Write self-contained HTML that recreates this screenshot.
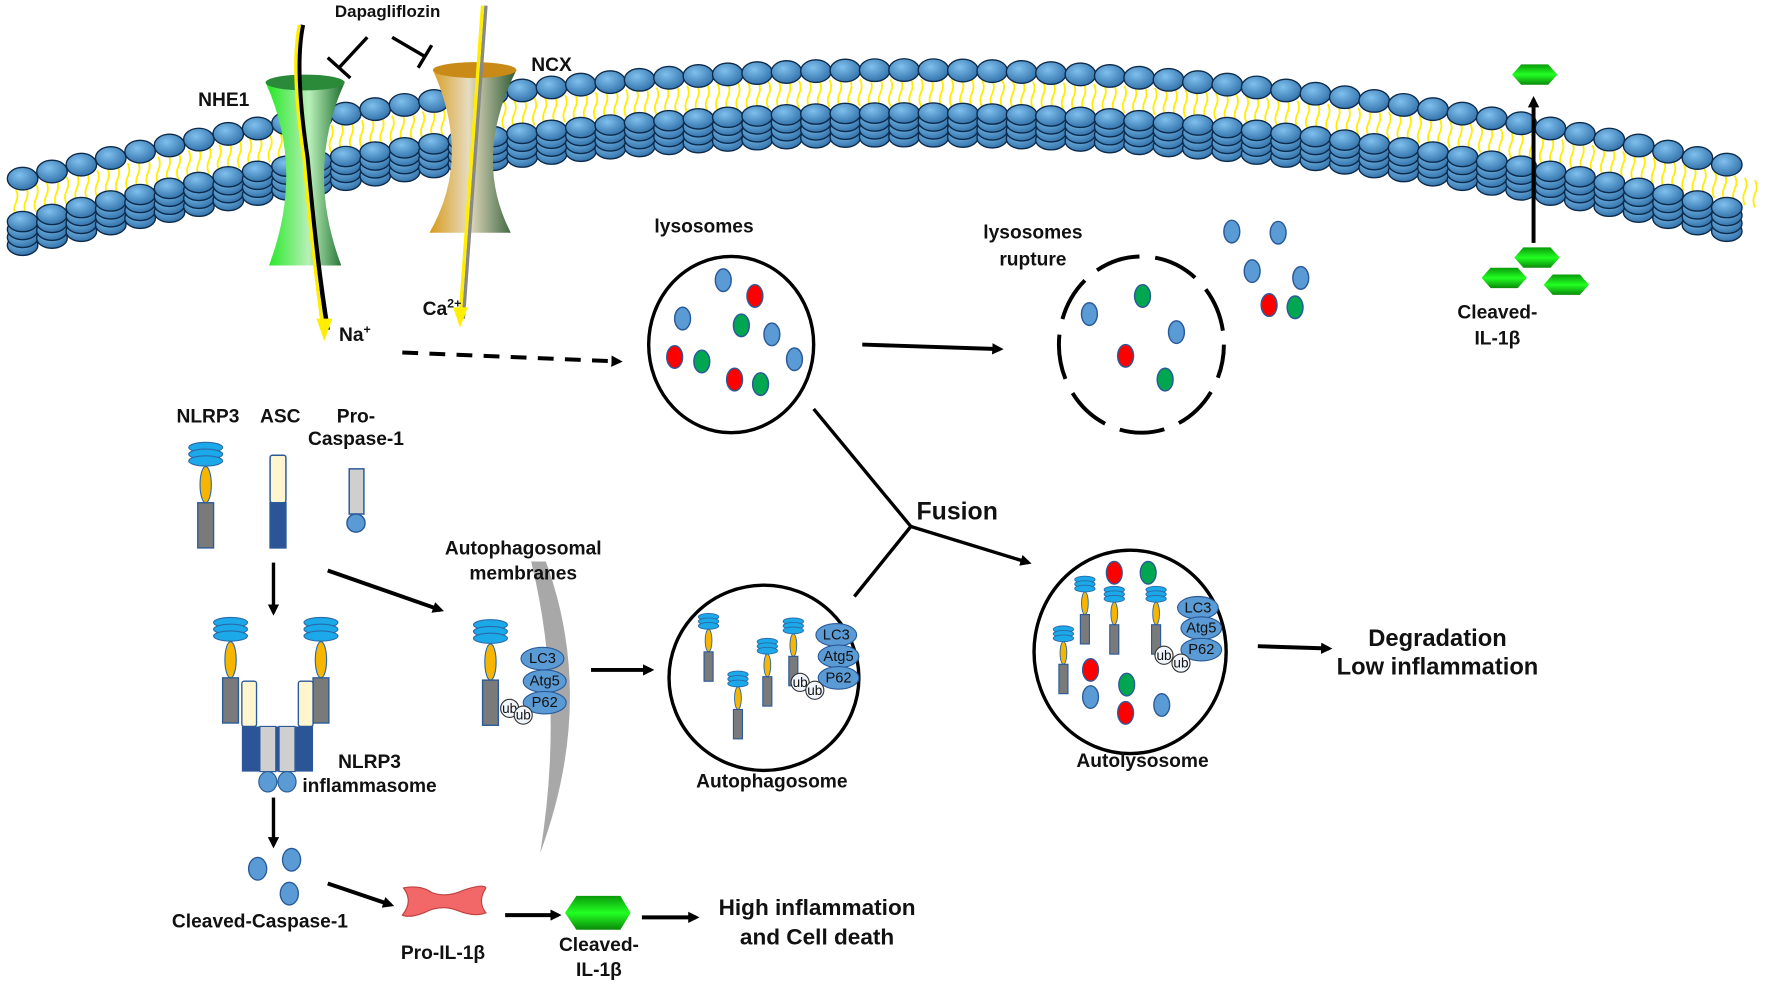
<!DOCTYPE html>
<html><head><meta charset="utf-8"><style>
html,body{margin:0;padding:0;background:#fff;}
svg{display:block;}
text{font-family:"Liberation Sans",Arial,sans-serif;font-weight:bold;fill:#111;}
</style></head><body>
<svg id="s" width="1772" height="984" viewBox="0 0 1568 871" preserveAspectRatio="none" xmlns="http://www.w3.org/2000/svg">
<defs>
<radialGradient id="hd" cx="40%" cy="35%" r="70%"><stop offset="0" stop-color="#7fc0ee"/><stop offset="1" stop-color="#2f6fa8"/></radialGradient>
<linearGradient id="gr" x1="0" x2="1"><stop offset="0" stop-color="#1fe81f"/><stop offset="0.55" stop-color="#b9f0b9"/><stop offset="1" stop-color="#1b6b2b"/></linearGradient>
<linearGradient id="br" x1="0" x2="1"><stop offset="0" stop-color="#d89a1a"/><stop offset="0.45" stop-color="#e6dcc0"/><stop offset="1" stop-color="#2c5a34"/></linearGradient>
<linearGradient id="hx" x1="0" y1="0" x2="0" y2="1"><stop offset="0" stop-color="#0a9a0a"/><stop offset="0.5" stop-color="#22ff22"/><stop offset="1" stop-color="#0a8a0a"/></linearGradient>
<marker id="ah" markerWidth="10" markerHeight="10" refX="7" refY="5" orient="auto" markerUnits="userSpaceOnUse"><path d="M0,0 L10,5 L0,10 z" fill="#000"/></marker>
<g id="nlb"><ellipse cx="0" cy="0" rx="15" ry="4.5" fill="#1ba9ea" stroke="#2a6aa8" stroke-width="1"/><ellipse cx="0" cy="6" rx="15" ry="4.5" fill="#1ba9ea" stroke="#2a6aa8" stroke-width="1"/><ellipse cx="0" cy="12" rx="15" ry="4.5" fill="#1ba9ea" stroke="#2a6aa8" stroke-width="1"/><ellipse cx="0" cy="33" rx="5" ry="16" fill="#f7b500" stroke="#2a6aa8" stroke-width="1"/><rect x="-7" y="49" width="14" height="40" fill="#7a7a7a" stroke="#2a5a98" stroke-width="1.2"/></g>
<g id="nls"><ellipse cx="0" cy="0" rx="9" ry="3" fill="#1ba9ea" stroke="#2a6aa8" stroke-width=".8"/><ellipse cx="0" cy="4" rx="9" ry="3" fill="#1ba9ea" stroke="#2a6aa8" stroke-width=".8"/><ellipse cx="0" cy="8" rx="9" ry="3" fill="#1ba9ea" stroke="#2a6aa8" stroke-width=".8"/><ellipse cx="0" cy="21" rx="3" ry="10" fill="#f7b500" stroke="#2a6aa8" stroke-width=".8"/><rect x="-4" y="31" width="8" height="26" fill="#7a7a7a" stroke="#2a5a98" stroke-width="1"/></g>
<g id="hex"><polygon points="-20,0 -12,-9 12,-9 20,0 12,9 -12,9" fill="url(#hx)"/></g>
</defs>
<g id="mem"></g>

<path d="M235,73 Q270,150 238,235 L302,235 Q270,150 305,73 Z" fill="url(#gr)"/>
<ellipse cx="270" cy="73" rx="35" ry="7" fill="#2a8a3a"/>
<path d="M383,62 Q418,140 380,206 L452,206 Q418,140 457,62 Z" fill="url(#br)"/>
<ellipse cx="420" cy="62" rx="37" ry="7" fill="#c98a18"/>
<path d="M268,22 Q260,60 272,140 Q280,230 290,292" fill="none" stroke="#000" stroke-width="4"/>
<path d="M265,22 Q257,60 269,140 Q277,230 286,292" fill="none" stroke="#ffee00" stroke-width="3"/>
<polygon points="280,282 294,282 287,302" fill="#ffee00"/>
<path d="M430,5 L410,282" stroke="#888" stroke-width="3"/>
<path d="M427,5 L407,282" stroke="#ffee00" stroke-width="3"/>
<polygon points="401,272 414,272 407,290" fill="#ffee00"/>

<text x="343" y="15" font-size="15" text-anchor="middle">Dapagliflozin</text>
<path d="M325,33 L300,60 M290,51 L310,69" stroke="#000" stroke-width="3"/>
<path d="M347,33 L376,50 M382,40 L370,60" stroke="#000" stroke-width="3"/>
<text x="198" y="94" font-size="17" text-anchor="middle">NHE1</text>
<text x="488" y="63" font-size="17" text-anchor="middle">NCX</text>
<text x="300" y="302" font-size="17">Na<tspan font-size="11" dy="-7">+</tspan></text>
<text x="374" y="279" font-size="17">Ca<tspan font-size="11" dy="-7">2+</tspan></text>

<path d="M356,312 L548,320" stroke="#000" stroke-width="3.5" stroke-dasharray="14,10" marker-end="url(#ah)"/>

<text x="623" y="206" font-size="17" text-anchor="middle">lysosomes</text>
<ellipse cx="647" cy="305" rx="73" ry="78" fill="none" stroke="#000" stroke-width="3"/>
<g stroke="#2a5a98" stroke-width="1.3">
<ellipse cx="640" cy="248" rx="7" ry="10" fill="#5b9bd5"/><ellipse cx="668" cy="262" rx="7" ry="10" fill="#ff0000"/>
<ellipse cx="604" cy="282" rx="7" ry="10" fill="#5b9bd5"/><ellipse cx="656" cy="288" rx="7" ry="10" fill="#00a650"/>
<ellipse cx="683" cy="296" rx="7" ry="10" fill="#5b9bd5"/><ellipse cx="597" cy="316" rx="7" ry="10" fill="#ff0000"/>
<ellipse cx="621" cy="320" rx="7" ry="10" fill="#00a650"/><ellipse cx="703" cy="318" rx="7" ry="10" fill="#5b9bd5"/>
<ellipse cx="650" cy="336" rx="7" ry="10" fill="#ff0000"/><ellipse cx="673" cy="340" rx="7" ry="10" fill="#00a650"/>
</g>
<path d="M763,305 L885,309" stroke="#000" stroke-width="3.5" marker-end="url(#ah)"/>
<text x="914" y="211" font-size="17" text-anchor="middle">lysosomes</text>
<text x="914" y="235" font-size="17" text-anchor="middle">rupture</text>
<ellipse cx="1010" cy="305" rx="73" ry="78" fill="none" stroke="#000" stroke-width="3.5" stroke-dasharray="40,14" stroke-dashoffset="10"/>
<g stroke="#2a5a98" stroke-width="1.3">
<ellipse cx="1011" cy="262" rx="7" ry="10" fill="#00a650"/><ellipse cx="964" cy="278" rx="7" ry="10" fill="#5b9bd5"/>
<ellipse cx="1041" cy="294" rx="7" ry="10" fill="#5b9bd5"/><ellipse cx="996" cy="315" rx="7" ry="10" fill="#ff0000"/>
<ellipse cx="1031" cy="336" rx="7" ry="10" fill="#00a650"/>
<ellipse cx="1090" cy="205" rx="7" ry="10" fill="#5b9bd5"/><ellipse cx="1131" cy="206" rx="7" ry="10" fill="#5b9bd5"/>
<ellipse cx="1108" cy="240" rx="7" ry="10" fill="#5b9bd5"/><ellipse cx="1151" cy="246" rx="7" ry="10" fill="#5b9bd5"/>
<ellipse cx="1123" cy="270" rx="7" ry="10" fill="#ff0000"/><ellipse cx="1146" cy="272" rx="7" ry="10" fill="#00a650"/>
</g>
<use href="#hex" x="1358" y="66"/>
<path d="M1357,215 L1357,88" stroke="#000" stroke-width="3.5" marker-end="url(#ah)"/>
<use href="#hex" x="1360" y="228"/><use href="#hex" x="1331" y="246"/><use href="#hex" x="1386" y="252"/>
<text x="1325" y="282" font-size="17" text-anchor="middle">Cleaved-</text>
<text x="1325" y="305" font-size="17" text-anchor="middle">IL-1β</text>

<text x="184" y="374" font-size="17" text-anchor="middle">NLRP3</text>
<text x="248" y="374" font-size="17" text-anchor="middle">ASC</text>
<text x="315" y="374" font-size="17" text-anchor="middle">Pro-</text>
<text x="315" y="394" font-size="17" text-anchor="middle">Caspase-1</text>
<use href="#nlb" x="182" y="396"/>
<rect x="239" y="403" width="14" height="42" rx="2" fill="#fff6d0" stroke="#2a5a98" stroke-width="1.3"/>
<rect x="239" y="445" width="14" height="40" fill="#2c5597" stroke="#2a5a98" stroke-width="1.3"/>
<rect x="309" y="415" width="13" height="40" fill="#cfcfcf" stroke="#2a5a98" stroke-width="1.3"/>
<circle cx="315" cy="463" r="8" fill="#5b9bd5" stroke="#2a5a98" stroke-width="1.3"/>
<path d="M242,498 L242,542" stroke="#000" stroke-width="3" marker-end="url(#ah)"/>
<path d="M290,505 L390,540" stroke="#000" stroke-width="3.5" marker-end="url(#ah)"/>

<use href="#nlb" x="204" y="551"/><use href="#nlb" x="284" y="551"/>
<rect x="214" y="603" width="13" height="40" rx="2" fill="#fff6d0" stroke="#2a5a98" stroke-width="1.2"/>
<rect x="264" y="603" width="13" height="40" rx="2" fill="#fff6d0" stroke="#2a5a98" stroke-width="1.2"/>
<rect x="214" y="643" width="63" height="40" fill="#2c5597"/>
<rect x="230" y="643" width="14" height="40" fill="#cfcfcf" stroke="#2a5a98" stroke-width="1"/>
<rect x="247" y="643" width="14" height="40" fill="#cfcfcf" stroke="#2a5a98" stroke-width="1"/>
<ellipse cx="237" cy="692" rx="8" ry="9" fill="#5b9bd5" stroke="#2a5a98"/><ellipse cx="254" cy="692" rx="8" ry="9" fill="#5b9bd5" stroke="#2a5a98"/>
<text x="327" y="680" font-size="17" text-anchor="middle">NLRP3</text>
<text x="327" y="701" font-size="17" text-anchor="middle">inflammasome</text>
<path d="M242,706 L242,748" stroke="#000" stroke-width="3" marker-end="url(#ah)"/>
<g fill="#5b9bd5" stroke="#2a5a98" stroke-width="1.2">
<ellipse cx="228" cy="769" rx="8" ry="10"/><ellipse cx="258" cy="761" rx="8" ry="10"/><ellipse cx="256" cy="791" rx="8" ry="10"/></g>
<text x="230" y="821" font-size="17" text-anchor="middle">Cleaved-Caspase-1</text>
<path d="M290,782 L346,801" stroke="#000" stroke-width="3.5" marker-end="url(#ah)"/>
<path d="M357,786 Q372,783 382,790 Q395,795 410,788 Q428,782 430,786 Q422,798 430,808 Q420,812 405,806 Q390,800 375,808 Q362,813 356,810 Q366,798 357,786 Z" fill="#f26868" stroke="#c04040" stroke-width="1"/>
<text x="392" y="849" font-size="17" text-anchor="middle">Pro-IL-1β</text>
<path d="M447,810 L494,810" stroke="#000" stroke-width="3.5" marker-end="url(#ah)"/>
<polygon points="500,808 510,793 549,793 558,808 549,823 510,823" fill="url(#hx)"/>
<text x="530" y="842" font-size="17" text-anchor="middle">Cleaved-</text>
<text x="530" y="864" font-size="17" text-anchor="middle">IL-1β</text>
<path d="M568,812 L616,812" stroke="#000" stroke-width="3.5" marker-end="url(#ah)"/>
<text x="723" y="810" font-size="20" text-anchor="middle">High inflammation</text>
<text x="723" y="836" font-size="20" text-anchor="middle">and Cell death</text>

<path d="M483,497 Q528,620 478,755 Q500,620 470,497 Z" fill="#a8a8a8"/>
<text x="463" y="491" font-size="17" text-anchor="middle">Autophagosomal</text>
<text x="463" y="513" font-size="17" text-anchor="middle">membranes</text>
<use href="#nlb" x="434" y="553"/>
<g font-size="12" text-anchor="middle">
<ellipse cx="480" cy="583" rx="19" ry="10" fill="#5b9bd5" stroke="#2a5a98"/><text x="480" y="587" font-size="13" style="font-weight:normal">LC3</text>
<ellipse cx="482" cy="603" rx="19" ry="10" fill="#5b9bd5" stroke="#2a5a98"/><text x="482" y="607" font-size="13" style="font-weight:normal">Atg5</text>
<ellipse cx="482" cy="622" rx="19" ry="10" fill="#5b9bd5" stroke="#2a5a98"/><text x="482" y="626" font-size="13" style="font-weight:normal">P62</text>
<circle cx="451" cy="627" r="8" fill="#f0f6fb" stroke="#333"/><text x="451" y="631" style="font-weight:normal">ub</text>
<circle cx="463" cy="633" r="8" fill="#f0f6fb" stroke="#333"/><text x="463" y="637" style="font-weight:normal">ub</text>
</g>
<path d="M523,593 L576,593" stroke="#000" stroke-width="3.5" marker-end="url(#ah)"/>

<ellipse cx="676" cy="600" rx="84" ry="82" fill="none" stroke="#000" stroke-width="3"/>
<use href="#nls" x="627" y="546"/><use href="#nls" x="653" y="597"/><use href="#nls" x="679" y="568"/><use href="#nls" x="702" y="550"/>
<g text-anchor="middle">
<ellipse cx="740" cy="562" rx="18" ry="10" fill="#5b9bd5" stroke="#2a5a98"/><text x="740" y="566" font-size="13" style="font-weight:normal">LC3</text>
<ellipse cx="742" cy="581" rx="18" ry="10" fill="#5b9bd5" stroke="#2a5a98"/><text x="742" y="585" font-size="13" style="font-weight:normal">Atg5</text>
<ellipse cx="742" cy="600" rx="18" ry="10" fill="#5b9bd5" stroke="#2a5a98"/><text x="742" y="604" font-size="13" style="font-weight:normal">P62</text>
<circle cx="708" cy="604" r="8" fill="#f0f6fb" stroke="#333"/><text x="708" y="608" font-size="12" style="font-weight:normal">ub</text>
<circle cx="721" cy="611" r="8" fill="#f0f6fb" stroke="#333"/><text x="721" y="615" font-size="12" style="font-weight:normal">ub</text>
</g>
<text x="683" y="697" font-size="17" text-anchor="middle">Autophagosome</text>

<path d="M720,362 L806,466 L756,528" fill="none" stroke="#000" stroke-width="3"/>
<path d="M806,466 L910,498" stroke="#000" stroke-width="3" marker-end="url(#ah)"/>
<text x="847" y="460" font-size="22" text-anchor="middle">Fusion</text>

<ellipse cx="1000" cy="577" rx="85" ry="90" fill="none" stroke="#000" stroke-width="3"/>
<g stroke="#2a5a98" stroke-width="1.2">
<ellipse cx="986" cy="507" rx="7" ry="10" fill="#ff0000"/><ellipse cx="1016" cy="507" rx="7" ry="10" fill="#00a650"/>
<ellipse cx="965" cy="593" rx="7" ry="10" fill="#ff0000"/><ellipse cx="997" cy="606" rx="7" ry="10" fill="#00a650"/>
<ellipse cx="965" cy="617" rx="7" ry="10" fill="#5b9bd5"/><ellipse cx="996" cy="631" rx="7" ry="10" fill="#ff0000"/>
<ellipse cx="1028" cy="624" rx="7" ry="10" fill="#5b9bd5"/>
</g>
<use href="#nls" x="960" y="513"/><use href="#nls" x="986" y="522"/><use href="#nls" x="1023" y="522"/><use href="#nls" x="941" y="557"/>
<ellipse cx="1060" cy="538" rx="18" ry="10" fill="#5b9bd5" stroke="#2a5a98"/><text x="1060" y="542" font-size="13" text-anchor="middle" style="font-weight:normal">LC3</text>
<ellipse cx="1063" cy="556" rx="18" ry="10" fill="#5b9bd5" stroke="#2a5a98"/><text x="1063" y="560" font-size="13" text-anchor="middle" style="font-weight:normal">Atg5</text>
<ellipse cx="1063" cy="575" rx="18" ry="10" fill="#5b9bd5" stroke="#2a5a98"/><text x="1063" y="579" font-size="13" text-anchor="middle" style="font-weight:normal">P62</text>
<circle cx="1030" cy="580" r="8" fill="#f0f6fb" stroke="#333"/><text x="1030" y="584" font-size="12" text-anchor="middle" style="font-weight:normal">ub</text>
<circle cx="1045" cy="587" r="8" fill="#f0f6fb" stroke="#333"/><text x="1045" y="591" font-size="12" text-anchor="middle" style="font-weight:normal">ub</text>
<text x="1011" y="679" font-size="17" text-anchor="middle">Autolysosome</text>
<path d="M1113,572 L1176,574" stroke="#000" stroke-width="3.5" marker-end="url(#ah)"/>
<text x="1272" y="572" font-size="21" text-anchor="middle">Degradation</text>
<text x="1272" y="597" font-size="21" text-anchor="middle">Low inflammation</text>
</svg>
<script>
(function(){
var g=document.getElementById('mem'),h='';
function y(x){return 62+0.000158*(x-800)*(x-800);}
for(var x=14;x<1562;x+=9){var t=y(x)+8;
h+='<path d="M'+x+','+t+' q3,6 0,12 q-3,6 0,12" fill="none" stroke="#ffee00" stroke-width="1.6"/>';}
for(var x=20;x<=1552;x+=26){var b=y(x)+38;for(var k=3;k>=0;k--){
h+='<ellipse cx="'+x+'" cy="'+(b+k*7)+'" rx="13.5" ry="9" fill="url(#hd)" stroke="#0d2a4a" stroke-width="1.2"/>';}}
for(var x=20;x<=1552;x+=26){
h+='<ellipse cx="'+x+'" cy="'+y(x)+'" rx="13.5" ry="10" fill="url(#hd)" stroke="#0d2a4a" stroke-width="1.2"/>';}
g.innerHTML=h;
})();
</script>
</body></html>
